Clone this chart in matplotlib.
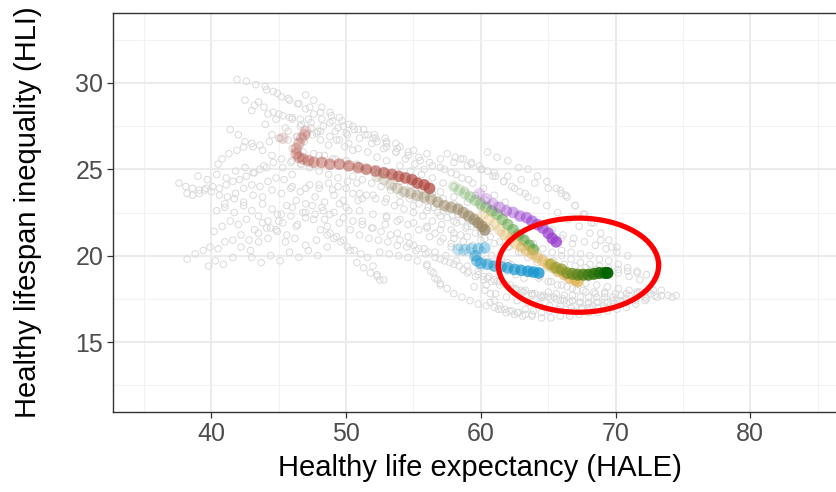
import numpy as np
import matplotlib
matplotlib.use('Agg')
import matplotlib.pyplot as plt
from matplotlib.patches import Ellipse
from matplotlib.colors import to_rgba

plt.rcParams['font.family'] = ['Liberation Sans', 'DejaVu Sans']

# Background countries (grey hollow circles), one (x, y) list pair per country track
gray_paths = [
    ([41.9, 42.6, 43.3, 44.1, 44.9, 45.7, 46.5, 47.3, 48.1, 48.9, 49.7, 50.5, 51.3, 52.1, 52.9, 53.7],
     [30.2, 30.1, 29.9, 29.6, 29.4, 29.1, 28.8, 28.6, 28.3, 28.1, 27.8, 27.5, 27.3, 27.0, 26.8, 26.5]),
    ([45.0, 45.8, 46.6, 47.4, 48.3, 49.2, 50.1, 51.0, 51.9, 52.8, 53.7, 54.6, 55.5, 56.4, 57.3, 58.2, 59.1],
     [28.2, 28.0, 27.9, 27.7, 27.5, 27.2, 27.0, 26.8, 26.5, 26.2, 26.0, 25.8, 25.5, 25.2, 25.0, 24.7, 24.4]),
    ([52.0, 53.0, 54.0, 55.0, 56.0, 57.0, 58.0, 59.0, 60.0, 61.0, 62.0, 63.0, 64.0, 65.0, 66.0],
     [26.8, 26.6, 26.3, 26.1, 25.9, 25.6, 25.4, 25.2, 25.0, 24.8, 24.6, 24.4, 24.2, 23.9, 23.6]),
    ([58.5, 59.3, 60.1, 60.9, 61.7, 62.5, 63.3, 64.1, 64.9, 65.7, 66.5, 67.3, 68.1, 68.9, 69.7],
     [25.6, 25.3, 25.0, 24.6, 24.3, 23.9, 23.6, 23.2, 22.9, 22.5, 22.1, 21.7, 21.3, 20.9, 20.5]),
    ([47.0, 47.6, 48.2, 48.8, 49.5, 50.2, 50.9, 51.6, 52.3, 53.0, 53.7, 54.4, 55.1, 55.8],
     [29.3, 29.0, 28.6, 28.3, 28.0, 27.6, 27.3, 27.0, 26.6, 26.3, 26.0, 25.6, 25.3, 25.0]),
    ([43.0, 43.5, 44.2, 44.0, 44.8, 45.5, 46.0, 46.6, 47.2, 47.9],
     [28.4, 28.9, 28.2, 27.6, 27.9, 27.4, 28.0, 27.5, 27.9, 27.2]),
    ([37.6, 38.1, 38.6, 39.1, 39.6, 40.1, 40.6, 41.1, 41.6, 42.1, 42.6, 43.1, 43.6, 44.1],
     [24.2, 24.0, 23.9, 23.8, 23.9, 24.0, 23.9, 24.1, 24.3, 24.4, 24.6, 24.8, 25.0, 25.1]),
    ([38.2, 38.6, 39.1, 39.5, 40.0, 40.6, 41.2, 41.8, 42.4, 43.0, 43.6, 44.2, 44.8, 45.4, 46.0],
     [23.6, 23.5, 23.6, 23.8, 23.7, 23.5, 23.4, 23.6, 23.9, 24.1, 24.0, 24.3, 24.5, 24.4, 24.7]),
    ([40.5, 40.8, 41.3, 41.9, 42.4, 43.0, 43.6, 44.3, 45.0, 45.7, 46.4, 47.1, 47.8],
     [25.3, 25.6, 25.9, 26.1, 26.3, 26.5, 26.4, 26.6, 26.8, 26.7, 26.9, 27.0, 27.1]),
    ([41.4, 42.0, 42.5, 43.1, 43.8, 44.5, 45.2, 45.9, 46.6, 47.3, 48.0, 48.7, 49.4, 50.1, 50.8],
     [27.3, 27.0, 26.6, 26.3, 26.1, 25.8, 25.6, 25.4, 25.3, 25.1, 24.9, 24.7, 24.5, 24.3, 24.2]),
    ([38.2, 38.8, 39.4, 39.9, 40.5, 41.0, 41.6, 42.2, 42.8, 43.5, 44.1],
     [19.8, 20.1, 20.3, 20.5, 20.4, 20.8, 20.9, 21.2, 20.9, 21.3, 21.6]),
    ([39.8, 40.3, 40.9, 41.6, 42.2, 42.9, 43.5, 44.2, 44.9, 45.6, 46.3],
     [19.4, 19.7, 19.5, 19.9, 20.5, 20.3, 20.8, 21.0, 21.4, 21.2, 21.7]),
    ([40.4, 41.0, 41.7, 42.4, 43.0, 43.8, 44.5, 45.2, 46.0, 46.8, 47.5, 48.3],
     [22.6, 22.8, 22.5, 22.9, 22.6, 23.0, 22.7, 22.4, 22.8, 22.5, 22.9, 22.6]),
    ([44.8, 45.3, 45.9, 46.4, 47.0, 47.6, 48.2, 48.8, 49.5, 50.2, 50.9],
     [21.5, 21.9, 22.3, 21.8, 22.5, 22.1, 22.8, 22.4, 23.0, 22.6, 23.2]),
    ([46.0, 47.0, 48.0, 49.0, 50.0, 51.0, 52.0, 53.0, 54.0, 55.0, 56.0, 57.0, 58.0, 59.0, 60.0],
     [24.0, 23.9, 24.1, 23.8, 23.9, 23.6, 23.5, 23.3, 23.1, 22.9, 22.6, 22.3, 22.0, 21.7, 21.3]),
    ([48.0, 49.0, 50.0, 51.0, 52.0, 53.0, 54.0, 55.0, 56.0, 57.0, 58.0, 59.0, 60.0, 61.0],
     [25.8, 25.6, 25.5, 25.2, 25.0, 24.8, 24.5, 24.3, 24.0, 23.7, 23.4, 23.1, 22.8, 22.5]),
    ([50.0, 51.0, 52.0, 53.0, 54.0, 55.0, 56.0, 57.0, 58.0, 59.0, 60.0, 61.0, 62.0, 63.0, 64.0],
     [22.8, 22.6, 22.4, 22.3, 22.1, 21.9, 21.7, 21.5, 21.3, 21.1, 20.9, 20.7, 20.5, 20.2, 20.0]),
    ([53.5, 54.3, 55.1, 55.9, 56.7, 57.5, 58.3, 59.1, 59.9, 60.7, 61.5, 62.3, 63.1],
     [24.0, 23.7, 23.4, 23.2, 23.0, 22.7, 22.4, 22.1, 21.8, 21.6, 21.3, 21.0, 20.7]),
    ([48.1, 48.6, 49.1, 49.6, 50.1, 50.6, 51.1, 51.6, 52.0, 52.3, 52.5],
     [21.5, 21.2, 21.0, 20.8, 20.5, 20.3, 20.1, 19.9, 19.4, 18.9, 18.6]),
    ([48.8, 49.3, 49.8, 50.3, 50.8, 51.3, 51.8, 52.3, 52.8],
     [21.3, 21.1, 20.9, 20.3, 19.6, 19.3, 19.0, 18.8, 18.6]),
    ([52.5, 53.2, 53.9, 54.6, 55.3, 56.0, 56.5, 56.8, 57.0],
     [20.2, 20.1, 20.0, 19.9, 19.7, 19.4, 19.0, 18.6, 18.3]),
    ([55.0, 55.8, 56.6, 57.4, 58.2, 59.0, 59.8, 60.6, 61.4, 62.2, 63.0, 63.8, 64.6],
     [20.6, 20.4, 20.2, 20.0, 19.7, 19.4, 19.1, 18.8, 18.5, 18.3, 18.0, 17.8, 17.6]),
    ([59.5, 60.3, 61.1, 61.9, 62.7, 63.5, 64.3, 65.1, 65.9, 66.7, 67.5, 68.3, 69.1, 69.9, 70.7, 71.5, 72.3, 73.1, 73.9, 74.5],
     [18.2, 18.0, 17.8, 17.6, 17.4, 17.3, 17.2, 17.1, 17.1, 17.0, 17.0, 17.1, 17.1, 17.2, 17.3, 17.4, 17.5, 17.6, 17.7, 17.7]),
    ([60.7, 61.3, 61.9, 62.5, 63.1, 63.8, 64.5, 65.2, 65.9, 66.6, 67.3, 68.0, 68.7, 69.4, 70.1, 70.8, 71.5, 72.2],
     [17.3, 16.9, 16.7, 16.6, 16.5, 16.5, 16.4, 16.4, 16.5, 16.5, 16.6, 16.7, 16.7, 16.8, 16.9, 17.0, 17.2, 17.4]),
    ([62.0, 62.8, 63.6, 64.4, 65.2, 66.0, 66.8, 67.6, 68.4, 69.2, 70.0, 70.8, 71.6, 72.4],
     [19.6, 19.3, 19.0, 18.8, 18.5, 18.3, 18.1, 18.0, 17.9, 17.9, 17.8, 17.8, 17.9, 18.0]),
    ([63.0, 63.8, 64.6, 65.4, 66.2, 67.0, 67.8, 68.6, 69.4, 70.2, 71.0, 71.8],
     [20.5, 20.2, 19.9, 19.7, 19.5, 19.4, 19.3, 19.2, 19.1, 19.0, 18.8, 18.6]),
    ([64.5, 65.3, 66.1, 66.9, 67.7, 68.5, 69.3, 70.1, 70.9],
     [21.8, 21.5, 21.2, 21.0, 20.8, 20.6, 20.4, 20.2, 20.0]),
    ([65.9, 66.4, 67.0, 67.6, 68.2, 68.9, 69.5, 70.1],
     [23.8, 23.4, 22.9, 22.4, 21.9, 21.3, 20.9, 20.5]),
    ([57.0, 57.7, 58.4, 59.1, 59.8, 60.5, 61.2, 61.9, 62.6, 63.3, 64.0, 64.7, 65.4, 66.1, 66.8],
     [19.8, 19.6, 19.4, 19.1, 18.9, 18.7, 18.5, 18.3, 18.1, 18.0, 17.8, 17.7, 17.6, 17.5, 17.4]),
    ([60.0, 60.2, 60.4, 60.7, 61.0, 61.4, 61.8, 62.3, 62.8, 63.3, 63.8],
     [19.3, 18.8, 18.3, 17.8, 17.4, 17.1, 16.9, 16.8, 16.7, 16.6, 16.6]),
    ([56.0, 56.6, 57.2, 57.8, 58.4, 59.0, 59.6, 60.2, 60.8, 61.4, 62.0, 62.6, 63.2],
     [21.6, 21.3, 21.0, 20.7, 20.5, 20.2, 19.9, 19.7, 19.5, 19.3, 19.1, 18.9, 18.7]),
    ([45.5, 46.2, 47.0, 47.8, 48.6, 49.5, 50.3, 51.2, 52.0, 52.9, 53.8, 54.6],
     [20.8, 21.0, 20.6, 20.9, 21.7, 21.9, 21.5, 22.0, 21.6, 21.8, 21.3, 21.1]),
    ([43.0, 43.7, 44.4, 45.1, 45.8, 46.5, 47.2, 47.9, 48.6],
     [19.9, 19.6, 20.0, 19.7, 20.2, 19.9, 20.3, 20.0, 20.5]),
    ([60.5, 61.2, 62.0, 62.8, 63.5, 64.2, 64.9, 65.6, 66.3, 67.0, 67.7, 68.4],
     [26.0, 25.7, 25.5, 25.1, 25.0, 24.6, 24.3, 23.9, 23.5, 22.9, 22.4, 21.9]),
    ([67.0, 67.8, 68.6, 69.4, 70.2, 71.0, 71.8, 72.6, 73.4, 74.2],
     [18.5, 18.4, 18.3, 18.2, 18.1, 18.0, 17.9, 17.8, 17.7, 17.6]),
    ([53.0, 53.8, 54.6, 55.4, 56.2, 57.0, 57.8, 58.6, 59.4, 60.2, 61.0],
     [22.2, 22.0, 21.8, 21.5, 21.1, 20.8, 20.5, 20.2, 19.9, 19.6, 19.3]),
    ([44.5, 45.1, 45.7, 46.3, 46.9, 47.5, 48.1, 48.7, 49.3, 49.9, 50.5],
     [27.0, 26.8, 27.2, 26.9, 26.6, 27.0, 26.7, 26.4, 26.7, 26.3, 26.1]),
    ([42.5, 43.2, 43.9, 44.6, 45.3, 46.0, 46.7, 47.4, 48.1, 48.8, 49.5, 50.2, 50.9, 51.6, 52.3, 53.0],
     [29.0, 28.7, 28.6, 28.3, 28.1, 27.9, 27.6, 27.4, 27.2, 26.9, 26.7, 26.5, 26.2, 26.0, 25.7, 25.5]),
    ([46.0, 46.8, 47.6, 48.4, 49.2, 50.0, 50.8, 51.6, 52.4, 53.2, 54.0, 54.8, 55.6, 56.4, 57.2, 58.0],
     [26.2, 26.0, 25.9, 25.8, 25.6, 25.5, 25.3, 25.0, 24.8, 24.6, 24.3, 24.1, 23.8, 23.6, 23.3, 23.0]),
    ([49.0, 49.8, 50.6, 51.4, 52.2, 53.0, 53.8, 54.6, 55.4, 56.2, 57.0, 57.8, 58.6, 59.4, 60.2, 61.0, 61.8],
     [27.8, 27.5, 27.3, 27.0, 26.8, 26.5, 26.2, 26.0, 25.7, 25.4, 25.1, 24.8, 24.5, 24.2, 23.9, 23.5, 23.1]),
    ([54.0, 54.8, 55.6, 56.4, 57.2, 58.0, 58.8, 59.6, 60.4, 61.2, 62.0, 62.8, 63.6, 64.4, 65.2, 66.0, 66.8],
     [25.2, 24.9, 24.7, 24.5, 24.2, 24.0, 23.8, 23.5, 23.2, 22.9, 22.6, 22.3, 22.0, 21.7, 21.4, 21.0, 20.7]),
    ([39.0, 39.7, 40.4, 41.1, 41.8, 42.5, 43.2, 43.9, 44.6, 45.3, 46.0, 46.7],
     [24.6, 24.4, 24.7, 24.5, 24.9, 25.1, 24.8, 25.2, 25.4, 25.1, 25.5, 25.3]),
    ([41.0, 41.7, 42.4, 43.1, 43.8, 44.5, 45.2, 45.9, 46.6, 47.3, 48.0, 48.7, 49.4],
     [23.0, 23.3, 23.1, 23.5, 23.4, 23.8, 23.6, 23.9, 23.7, 24.1, 23.9, 24.2, 24.0]),
    ([43.5, 44.2, 44.9, 45.6, 46.3, 47.0, 47.7, 48.4, 49.1, 49.8, 50.5, 51.2],
     [22.3, 22.0, 22.4, 22.9, 23.2, 23.0, 23.4, 23.1, 23.5, 23.2, 23.6, 23.3]),
    ([47.0, 47.7, 48.4, 49.1, 49.8, 50.5, 51.2, 51.9, 52.6, 53.3, 54.0, 54.7, 55.4, 56.1],
     [22.2, 22.4, 22.1, 22.5, 22.2, 22.0, 21.8, 21.6, 21.4, 21.2, 20.9, 20.7, 20.4, 20.2]),
    ([50.5, 51.2, 51.9, 52.6, 53.3, 54.0, 54.7, 55.4, 56.1, 56.8, 57.5, 58.2, 58.9, 59.6, 60.3],
     [24.6, 24.4, 24.2, 24.0, 23.8, 23.5, 23.3, 23.0, 22.8, 22.5, 22.2, 21.9, 21.6, 21.3, 21.0]),
    ([56.5, 57.2, 57.9, 58.6, 59.3, 60.0, 60.7, 61.4, 62.1, 62.8, 63.5, 64.2, 64.9, 65.6, 66.3],
     [22.8, 22.6, 22.3, 22.0, 21.7, 21.4, 21.1, 20.8, 20.5, 20.2, 19.9, 19.6, 19.3, 19.0, 18.8]),
    ([58.0, 58.7, 59.4, 60.1, 60.8, 61.5, 62.2, 62.9, 63.6, 64.3, 65.0, 65.7, 66.4, 67.1, 67.8, 68.5, 69.2],
     [21.0, 20.8, 20.6, 20.3, 20.0, 19.8, 19.5, 19.2, 19.0, 18.7, 18.5, 18.3, 18.2, 18.0, 17.9, 17.8, 17.8]),
    ([61.0, 61.7, 62.4, 63.1, 63.8, 64.5, 65.2, 65.9, 66.6, 67.3, 68.0, 68.7, 69.4, 70.1, 70.8, 71.5, 72.2, 72.9],
     [18.6, 18.4, 18.1, 17.9, 17.7, 17.6, 17.5, 17.4, 17.3, 17.3, 17.2, 17.3, 17.3, 17.4, 17.5, 17.5, 17.6, 17.7]),
    ([62.5, 63.2, 63.9, 64.6, 65.3, 66.0, 66.7, 67.4, 68.1, 68.8, 69.5, 70.2, 70.9, 71.6],
     [21.2, 20.9, 20.7, 20.4, 20.2, 20.0, 19.8, 19.6, 19.5, 19.4, 19.3, 19.2, 19.1, 19.0]),
    ([66.0, 66.7, 67.4, 68.1, 68.8, 69.5, 70.2, 70.9, 71.6, 72.3, 73.0],
     [20.3, 20.2, 20.1, 20.0, 19.8, 19.7, 19.5, 19.3, 19.1, 18.9, 18.7]),
    ([65.0, 65.6, 66.2, 66.8, 67.4, 68.0, 68.6, 69.2, 69.8, 70.4, 71.0, 71.6, 72.2, 72.8, 73.4],
     [17.9, 17.8, 17.7, 17.7, 17.6, 17.6, 17.6, 17.6, 17.6, 17.7, 17.7, 17.8, 17.9, 18.0, 18.0]),
    ([56.0, 56.3, 56.6, 57.0, 57.5, 58.0, 58.6, 59.2, 59.8, 60.4, 61.0],
     [19.5, 19.1, 18.7, 18.4, 18.1, 17.8, 17.6, 17.4, 17.2, 17.1, 17.0]),
    ([51.0, 51.7, 52.4, 53.1, 53.8, 54.5, 55.2, 55.9, 56.6, 57.3, 58.0, 58.7],
     [21.2, 21.0, 20.9, 20.8, 20.6, 20.5, 20.3, 20.1, 19.9, 19.7, 19.5, 19.2]),
    ([57.5, 58.1, 58.7, 59.3, 59.9, 60.5, 61.1, 61.7, 62.3, 62.9, 63.5],
     [25.9, 25.7, 25.6, 25.4, 25.2, 24.9, 24.6, 24.3, 24.0, 23.7, 23.4]),
    ([44.0, 44.6, 45.2, 45.8, 46.4, 47.0, 47.6, 48.2, 48.8, 49.4, 50.0],
     [29.8, 29.5, 29.2, 29.0, 28.8, 28.5, 28.2, 27.9, 27.7, 27.4, 27.1]),
    ([40.2, 40.8, 41.4, 42.0, 42.6, 43.2, 43.8, 44.4, 45.0],
     [21.4, 21.7, 22.0, 21.8, 22.1, 21.5, 21.9, 21.6, 22.0]),
    ([51.5, 52.2, 52.9, 53.6, 54.3, 55.0, 55.7, 56.4, 57.1, 57.8, 58.5],
     [23.5, 23.3, 23.1, 22.9, 22.7, 22.5, 22.3, 22.0, 21.8, 21.5, 21.2]),
    ([59.0, 59.6, 60.2, 60.8, 61.4, 62.0, 62.6, 63.2, 63.8, 64.4, 65.0, 65.6, 66.2, 66.8, 67.4, 68.0, 68.6, 69.2, 69.8, 70.4],
     [19.0, 18.8, 18.6, 18.5, 18.3, 18.2, 18.0, 17.9, 17.8, 17.7, 17.6, 17.5, 17.4, 17.4, 17.3, 17.3, 17.3, 17.3, 17.4, 17.4]),
    ([61.5, 62.1, 62.7, 63.3, 63.9, 64.5, 65.1, 65.7, 66.3, 66.9, 67.5, 68.1, 68.7],
     [16.9, 16.8, 16.7, 16.9, 16.8, 16.7, 16.8, 16.9, 16.9, 16.8, 16.9, 17.0, 17.0]),
]

# Highlighted countries
red_x = [45.3, 47.0, 46.9, 46.7, 46.5, 46.3, 46.3, 46.5, 46.8, 47.2, 47.6, 48.2, 48.8, 49.5,
         50.2, 50.9, 51.5, 52.2, 52.8, 53.4, 53.9, 54.4, 54.9, 55.3, 55.8, 56.2]
red_y = [26.8, 27.2, 27.0, 26.8, 26.5, 26.2, 25.9, 25.7, 25.6, 25.5, 25.4, 25.4, 25.3, 25.3,
         25.2, 25.1, 25.0, 24.9, 24.8, 24.7, 24.6, 24.5, 24.4, 24.2, 24.1, 23.9]
tan_x = [52.3, 52.8, 53.3, 53.8, 54.3, 54.8, 55.3, 55.8, 56.3, 56.8, 57.3, 57.8, 58.3, 58.7,
         59.1, 59.5, 59.8, 60.1, 60.3]
tan_y = [24.6, 24.4, 24.1, 23.9, 23.7, 23.6, 23.5, 23.4, 23.3, 23.1, 22.9, 22.8, 22.7, 22.5,
         22.3, 22.1, 21.9, 21.7, 21.5]
green_x = [58.0, 58.4, 58.8, 59.2, 59.6, 60.0, 60.4, 60.8, 61.2, 61.6, 62.0, 62.4, 62.8, 63.2, 63.6, 63.9]
green_y = [24.0, 23.8, 23.6, 23.4, 23.2, 23.0, 22.8, 22.6, 22.4, 22.1, 21.8, 21.5, 21.2, 20.9, 20.6, 20.35]
purple_x = [59.9, 60.4, 60.9, 61.4, 61.9, 62.4, 62.9, 63.4, 63.8, 64.2, 64.6, 65.0, 65.3, 65.6]
purple_y = [23.6, 23.3, 23.0, 22.8, 22.6, 22.5, 22.3, 22.2, 22.0, 21.8, 21.6, 21.3, 21.0, 20.8]
gold_x = [60.2, 60.6, 61.0, 61.4, 61.8, 62.2, 62.6, 63.0, 63.4, 63.8, 64.2, 64.6, 65.0, 65.4,
          65.8, 66.2, 66.6, 67.0, 67.2]
gold_y = [22.4, 22.1, 21.8, 21.5, 21.2, 21.0, 20.7, 20.5, 20.3, 20.1, 19.9, 19.7, 19.5, 19.3,
          19.1, 18.9, 18.7, 18.6, 18.5]
dkgreen_x = [65.2, 65.6, 66.0, 66.4, 66.8, 67.2, 67.6, 68.0, 68.4, 68.8, 69.2, 69.4]
dkgreen_y = [19.5, 19.3, 19.2, 19.0, 18.95, 18.9, 18.9, 18.9, 18.95, 19.0, 19.0, 19.0]
blue_x = [58.3, 58.8, 59.3, 59.8, 60.3, 59.6, 59.7, 60.0, 60.5, 61.0, 61.5, 62.0, 62.5, 63.0,
          63.5, 63.9, 64.3]
blue_y = [20.35, 20.35, 20.4, 20.4, 20.45, 20.0, 19.7, 19.55, 19.5, 19.4, 19.35, 19.3, 19.2,
          19.15, 19.1, 19.05, 19.0]

fig = plt.figure(figsize=(8.36, 4.92), dpi=100)
# panel runs past the right edge (cropped screenshot)
ax = fig.add_axes([113 / 836, 80 / 492, 772 / 836, 399 / 492])

for gx, gy in gray_paths:
    ax.scatter(gx, gy, s=22, facecolors='none', edgecolors='#dadada', linewidths=0.7, zorder=2)


def track(x, y, color, a0=0.2, a1=0.75):
    n = len(x)
    cols = [to_rgba(color, a) for a in np.linspace(a0, a1, n)]
    ax.scatter(x, y, s=70, c=cols, linewidths=0, zorder=3)


track(red_x, red_y, '#b04a40')
track(tan_x, tan_y, '#9a8866')
track(green_x, green_y, '#5ea445', 0.2, 0.7)
track(purple_x, purple_y, '#9a3ed0', 0.2, 0.8)
track(gold_x, gold_y, '#e3b55a', 0.25, 0.75)
track(blue_x, blue_y, '#1596cf', 0.25, 0.8)

# gold -> dark green highlighted country
n = len(dkgreen_x)
c0, c1 = np.array(to_rgba('#a8a030')), np.array(to_rgba('#006400'))
cols = [tuple((1 - t) * c0 + t * c1)[:3] + (0.6 + 0.35 * t,) for t in np.linspace(0, 1, n)]
ax.scatter(dkgreen_x, dkgreen_y, s=75, c=cols, linewidths=0, zorder=4)

ax.add_patch(Ellipse((67.25, 19.45), width=11.9, height=5.45, fill=False,
                     edgecolor='#ff0000', linewidth=3.8, zorder=5))

ax.set_xlim(32.7, 90)
ax.set_ylim(10.95, 34.05)
ax.set_xticks([40, 50, 60, 70, 80])
ax.set_yticks([15, 20, 25, 30])
ax.set_xticks(np.arange(35, 90, 10), minor=True)
ax.set_yticks([12.5, 17.5, 22.5, 27.5, 32.5], minor=True)
ax.grid(which='major', color='#ebebeb', linewidth=1.5, zorder=0)
ax.grid(which='minor', color='#f2f2f2', linewidth=0.8, zorder=0)
ax.set_axisbelow(True)
for s in ax.spines.values():
    s.set_color('#333333')
    s.set_linewidth(1.0)
ax.tick_params(which='major', length=4, width=0.9, color='#333333', labelsize=18,
               labelcolor='#4d4d4d', pad=3)
ax.tick_params(which='minor', length=0)

ax.set_xlabel('Healthy life expectancy (HALE)', fontsize=21, color='black')
ax.set_ylabel('Healthy lifespan inequality (HLI)', fontsize=21, color='black')
ax.xaxis.set_label_coords(0.475, -0.105)
ax.yaxis.set_label_coords(-0.092, 0.5)

fig.savefig('out.png', dpi=100)
